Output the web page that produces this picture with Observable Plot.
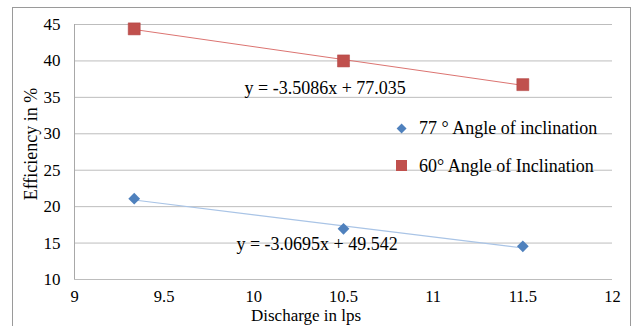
<!DOCTYPE html>
<html><head><meta charset="utf-8">
<script src="https://cdn.jsdelivr.net/npm/d3@7"></script>
<script src="https://cdn.jsdelivr.net/npm/@observablehq/plot@0.6"></script>
<style>
html,body{margin:0;padding:0;background:#fff;}
#wrap{position:relative;width:636px;height:326px;overflow:hidden;font-family:"Liberation Serif","Times New Roman",serif;color:#000;}
#frame{position:absolute;left:12px;top:7px;width:619px;height:340px;border:1px solid #9a9a9a;box-sizing:border-box;}
#chart{position:absolute;left:0;top:0;}
.t{position:absolute;font-size:18px;line-height:12px;white-space:nowrap;}
.sym{position:absolute;}
</style></head><body>
<div id="wrap"><div id="frame"></div><div id="chart"></div></div>
<script>
const discharge = [9.333, 10.5, 11.5];
const eff77 = [21.1, 16.95, 14.55];
const eff60 = [44.4, 40.0, 36.75];
const seriesNames = ["77 ° Angle of inclination", "60° Angle of Inclination"];
const equations = ["y = -3.0695x + 49.542", "y = -3.5086x + 77.035"];
const xTicks = [9, 9.5, 10, 10.5, 11, 11.5, 12];
const yTicks = [10, 15, 20, 25, 30, 35, 40, 45];
const xTitle = "Discharge in lps";
const yTitle = "Efficiency in %";

const blue = "#4f81bd", red = "#c0504d";
const rows77 = discharge.map((x, i) => ({x, y: eff77[i]}));
const rows60 = discharge.map((x, i) => ({x, y: eff60[i]}));
const serif = "Liberation Serif";

const plot = Plot.plot({
  width: 636, height: 326,
  marginLeft: 74, marginRight: 24, marginTop: 24, marginBottom: 47,
  style: {fontFamily: serif, fontSize: "17px", background: "transparent", color: "#000", overflow: "visible"},
  x: {domain: [9, 12], label: null, axis: null},
  y: {domain: [10, 45], label: null, axis: null},
  marks: [
    Plot.ruleY(yTicks, {stroke: "#bdbdbd", strokeWidth: 1}),
    Plot.ruleX([9], {y1: 10, y2: 45, stroke: "#a8a8a8", strokeWidth: 1}),
    Plot.text(xTicks, {x: d => d, text: d => String(d), frameAnchor: "bottom", lineAnchor: "top", dy: 11.2, fontSize: 16.5, fontFamily: serif, fill: "#000"}),
    Plot.text(yTicks, {y: d => d, text: d => String(d), frameAnchor: "left", textAnchor: "end", lineAnchor: "middle", dx: -14, fontSize: 17, fontFamily: serif, fill: "#000"}),
    Plot.linearRegressionY(rows60, {x: "x", y: "y", ci: 0, stroke: "#dc7471", strokeWidth: 1}),
    Plot.linearRegressionY(rows77, {x: "x", y: "y", ci: 0, stroke: "#a9c4e6", strokeWidth: 1.2}),
    Plot.dot(rows60, {x: "x", y: "y", symbol: "square", r: 6.8, fill: red, stroke: "#b04542", strokeWidth: 0.5}),
    Plot.dot(rows77, {x: "x", y: "y", symbol: "diamond2", r: 5.3, fill: blue, stroke: "none"}),
    Plot.text([equations[1]], {x: 9.948, y: 36.31, text: d => d, textAnchor: "start", lineAnchor: "middle", fontSize: 18, fontFamily: serif, fill: "#000"}),
    Plot.text([equations[0]], {x: 9.903, y: 14.88, text: d => d, textAnchor: "start", lineAnchor: "middle", fontSize: 18, fontFamily: serif, fill: "#000"})
  ]
});
document.getElementById("chart").appendChild(plot);

const wrap = document.getElementById("wrap");
function addText(txt, left, baseline, extra) {
  const d = document.createElement("div");
  d.className = "t";
  d.textContent = txt;
  d.style.left = left + "px";
  d.style.top = (baseline - 12.05) + "px";
  if (extra) Object.assign(d.style, extra);
  wrap.appendChild(d);
  return d;
}
// legend
const ds = document.createElement("div");
ds.className = "sym";
Object.assign(ds.style, {left: (401.7 - 3.6) + "px", top: (129 - 3.6) + "px", width: "7.2px", height: "7.2px", background: blue, transform: "rotate(45deg)"});
wrap.appendChild(ds);
const ss = document.createElement("div");
ss.className = "sym";
Object.assign(ss.style, {left: (401.7 - 5.5) + "px", top: (165 - 5.5) + "px", width: "11px", height: "11px", background: red});
wrap.appendChild(ss);
addText(seriesNames[0], 419, 134);
addText(seriesNames[1], 419, 171.7);
// axis titles
addText(xTitle, 251, 322, {fontSize: "17px", lineHeight: "12px"});
const yt = addText(yTitle, 0, 0);
const w = yt.getBoundingClientRect().width;
Object.assign(yt.style, {left: (31 - w / 2) + "px", top: (144 - 6) + "px", transform: "rotate(-90deg)", transformOrigin: "50% 50%"});
</script>
</body></html>
